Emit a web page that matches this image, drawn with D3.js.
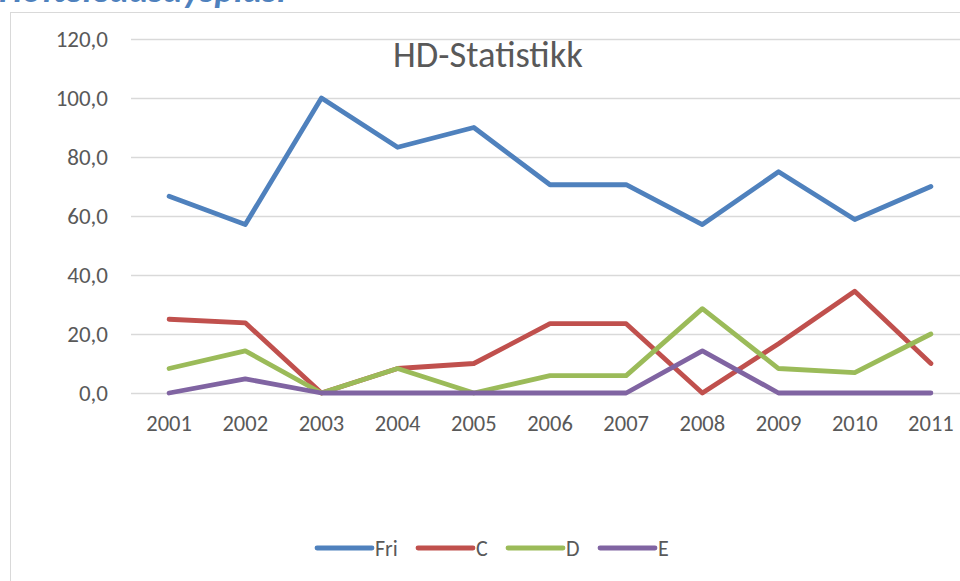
<!DOCTYPE html>
<html>
<head>
<meta charset="utf-8">
<script src="https://cdn.jsdelivr.net/npm/d3@7"></script>
<style>
  body { margin: 0; background: #fff; }
  svg { display: block; }
</style>
</head>
<body>
<div id="chart"></div>
<script>
const years = ['2001', '2002', '2003', '2004', '2005', '2006', '2007', '2008', '2009', '2010', '2011']
const fri = [66.7, 57.1, 100, 83.3, 90, 70.6, 70.6, 57.1, 75, 58.8, 70]
const c = [25, 23.8, 0, 8.3, 10, 23.5, 23.5, 0, 16.7, 34.5, 10]
const d = [8.3, 14.3, 0, 8.3, 0, 5.9, 5.9, 28.6, 8.3, 6.9, 20]
const e = [0, 4.8, 0, 0, 0, 0, 0, 14.3, 0, 0, 0]
const seriesNames = ['Fri', 'C', 'D', 'E']
const yTicks = [0, 20, 40, 60, 80, 100, 120]

const width = 960
const height = 581
const colors = ['#4f81bd', '#c0504d', '#9bbb59', '#8064a2']
const font = 'Carlito, "Open Sans", "Liberation Sans", sans-serif'

const svg = d3.select('#chart')
    .append('svg')
    .attr('width', width)
    .attr('height', height)

// heading above the chart box, cut off at the top like in the screenshot
const heading = svg.append('text')
    .attr('x', -1)
    .attr('y', 2)
    .attr('font-family', font)
    .attr('font-size', 30)
    .attr('font-weight', 'bold')
    .attr('font-style', 'italic')
    .attr('fill', '#4f81bd')
    .text('Hofteleddsdysplasi')
const hw = heading.node().getComputedTextLength()
heading.attr('font-size', 30 * 287 / hw)

// chart frame
svg.append('rect')
    .attr('x', 10.5)
    .attr('y', 12.5)
    .attr('width', 1000)
    .attr('height', 600)
    .attr('fill', '#fff')
    .attr('stroke', '#d9d9d9')

const x = d3.scaleBand()
    .domain(years)
    .range([131, 969])

const y = d3.scaleLinear()
    .domain([0, 120])
    .range([393, 39])

const yAxis = d3.axisLeft(y)
    .tickValues(yTicks)
    .tickSize(-(969 - 131))
    .tickPadding(23)
    .tickFormat(v => d3.format('.1f')(v).replace('.', ','))

const gy = svg.append('g')
    .attr('transform', 'translate(131,0)')
    .call(yAxis)
gy.select('.domain').remove()
gy.selectAll('line').attr('stroke', '#d9d9d9').attr('stroke-width', 1.3)
gy.selectAll('text')
    .attr('font-family', font)
    .attr('font-size', 23)
    .attr('fill', '#595959')

const xAxis = d3.axisBottom(x).tickSize(0).tickPadding(22)
const gx = svg.append('g')
    .attr('transform', 'translate(0,393)')
    .call(xAxis)
gx.select('.domain').remove()
gx.selectAll('text')
    .attr('font-family', font)
    .attr('font-size', 22.5)
    .attr('fill', '#595959')

svg.append('text')
    .attr('x', 488)
    .attr('y', 67)
    .attr('text-anchor', 'middle')
    .attr('font-family', font)
    .attr('font-size', 36.5)
    .attr('fill', '#595959')
    .text('HD-Statistikk')

const allSeries = [fri, c, d, e]
const line = d3.line()
    .x((v, i) => x(years[i]) + x.bandwidth() / 2)
    .y(v => y(v))

svg.selectAll('.series')
    .data(allSeries)
    .enter()
    .append('path')
    .attr('class', 'series')
    .attr('d', s => line(s))
    .attr('fill', 'none')
    .attr('stroke', (s, i) => colors[i])
    .attr('stroke-width', 4.8)
    .attr('stroke-linecap', 'round')
    .attr('stroke-linejoin', 'round')

// legend
const legendX = [317, 418, 508, 600]
const legend = svg.selectAll('.legend')
    .data(seriesNames)
    .enter()
    .append('g')
    .attr('class', 'legend')
    .attr('transform', (n, i) => `translate(${legendX[i]},548)`)

legend.append('line')
    .attr('x1', 0)
    .attr('x2', 55)
    .attr('stroke', (n, i) => colors[i])
    .attr('stroke-width', 4.8)
    .attr('stroke-linecap', 'round')

legend.append('text')
    .attr('x', 58)
    .attr('y', 8)
    .attr('font-family', font)
    .attr('font-size', 22)
    .attr('fill', '#595959')
    .text(n => n)
</script>
</body>
</html>
